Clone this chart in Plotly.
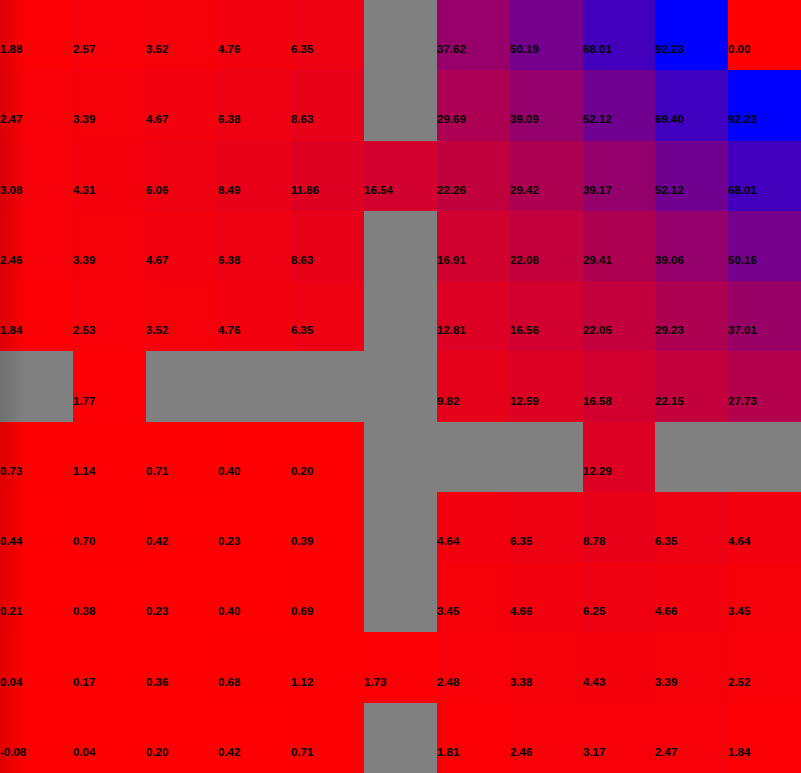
import numpy as np
import plotly.graph_objects as go

nan = None
cols = list(range(11))
rows = list(range(11))

row0 = [1.88, 2.57, 3.52, 4.76, 6.35, nan, 37.62, 50.19, 68.01, 92.23, 0.00]
row1 = [2.47, 3.39, 4.67, 6.38, 8.63, nan, 29.69, 39.09, 52.12, 69.40, 92.23]
row2 = [3.08, 4.31, 6.06, 8.49, 11.86, 16.54, 22.26, 29.42, 39.17, 52.12, 68.01]
row3 = [2.46, 3.39, 4.67, 6.38, 8.63, nan, 16.91, 22.08, 29.41, 39.06, 50.16]
row4 = [1.84, 2.53, 3.52, 4.76, 6.35, nan, 12.81, 16.56, 22.05, 29.23, 37.01]
row5 = [nan, 1.77, nan, nan, nan, nan, 9.82, 12.59, 16.58, 22.15, 27.73]
row6 = [0.73, 1.14, 0.71, 0.40, 0.20, nan, nan, nan, 12.29, nan, nan]
row7 = [0.44, 0.70, 0.42, 0.23, 0.39, nan, 4.64, 6.35, 8.78, 6.35, 4.64]
row8 = [0.21, 0.38, 0.23, 0.40, 0.69, nan, 3.45, 4.66, 6.25, 4.66, 3.45]
row9 = [0.04, 0.17, 0.36, 0.68, 1.12, 1.73, 2.48, 3.38, 4.43, 3.39, 2.52]
row10 = [-0.08, 0.04, 0.20, 0.42, 0.71, nan, 1.81, 2.46, 3.17, 2.47, 1.84]

z = [row0, row1, row2, row3, row4, row5, row6, row7, row8, row9, row10]

fig = go.Figure()
fig.add_trace(go.Heatmap(
    z=z, x=cols, y=rows,
    colorscale=[[0, "rgb(255,0,0)"], [1, "rgb(0,0,255)"]],
    showscale=False, hoverongaps=False,
))

annotations = []
for r, rv in zip(rows, z):
    for c, v in zip(cols, rv):
        if v is None:
            continue
        annotations.append(dict(
            x=c - 0.5, y=r, xref="x", yref="y",
            text=f"<b>{v:.2f}</b>", showarrow=False,
            xanchor="left", yanchor="middle", yshift=-14, xshift=-2,
            font=dict(family="Liberation Sans, Arial", size=11.5, color="black"),
        ))

# subtle darkening along the left edge
shapes = []
n = 12
strip = 2 / 801
for i in range(n):
    op = 0.12 * (1 - i / n)
    shapes.append(dict(type="rect", xref="paper", yref="paper",
                       x0=i * strip, x1=(i + 1) * strip, y0=0, y1=1,
                       fillcolor="black", opacity=op, line=dict(width=0), layer="above"))

fig.update_layout(
    width=801, height=773,
    margin=dict(l=0, r=0, t=0, b=0),
    plot_bgcolor="#808080", paper_bgcolor="white",
    annotations=annotations, shapes=shapes,
    xaxis=dict(range=[-0.5, 10.5], showticklabels=False, showgrid=False, zeroline=False, visible=False),
    yaxis=dict(range=[10.5, -0.5], showticklabels=False, showgrid=False, zeroline=False, visible=False),
)
fig.write_html("out.html")
